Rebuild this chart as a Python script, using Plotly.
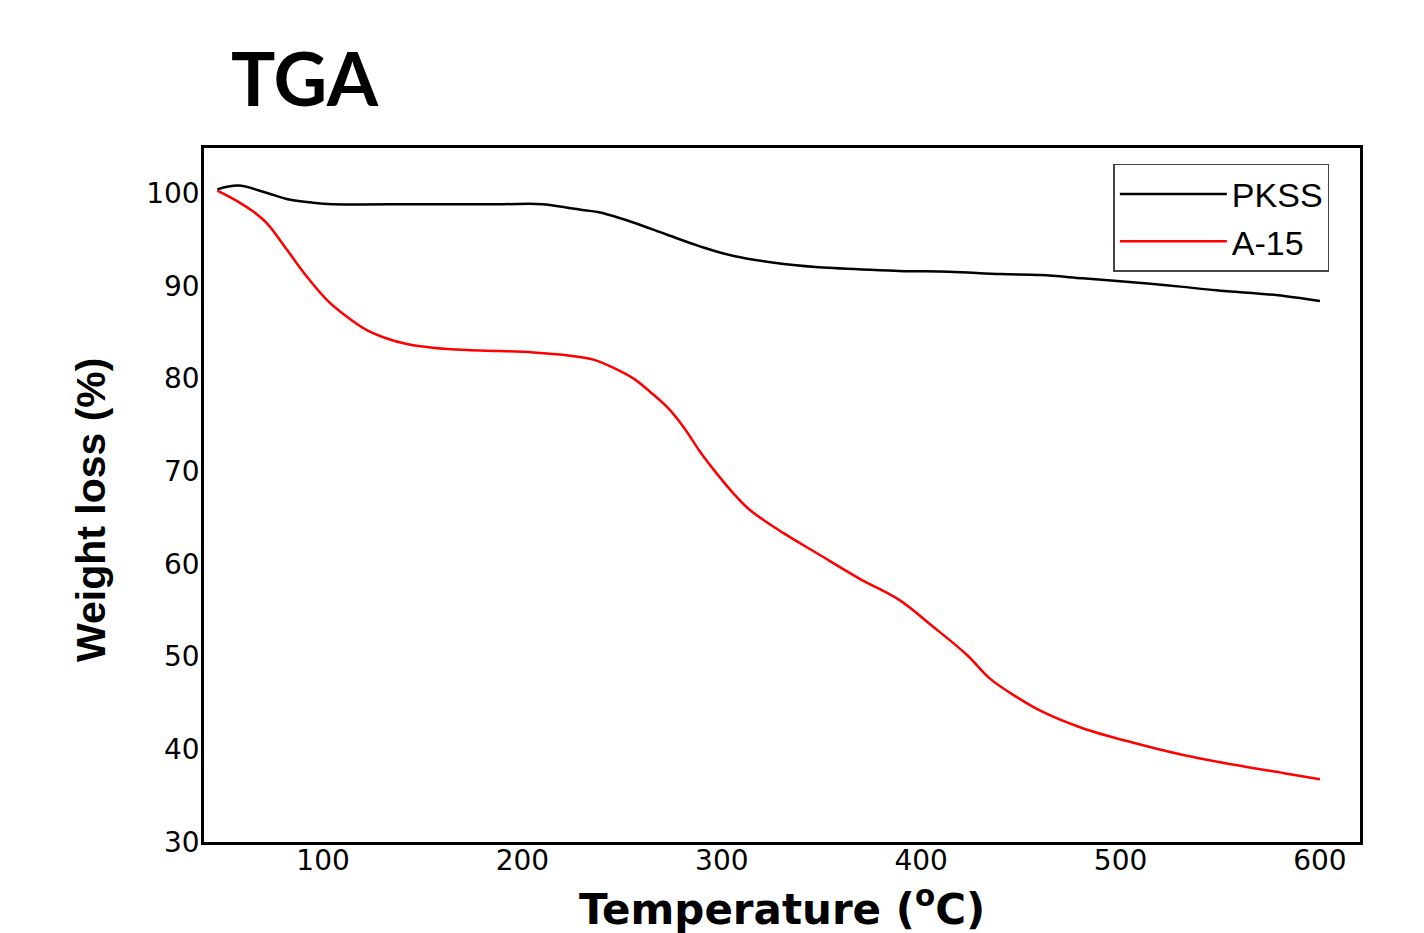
import plotly.graph_objects as go

# ---- data ----
pkss_T = [47, 57.5, 72, 83, 95, 105, 150, 190, 210, 222, 231, 239, 256, 272, 289, 306,
          331, 356, 389, 414, 440, 460, 481, 515, 530, 548, 582, 600]
pkss_W = [100.4, 100.8, 100.0, 99.3, 98.95, 98.8, 98.8, 98.8, 98.8, 98.45, 98.15, 97.9,
          96.8, 95.55, 94.25, 93.2, 92.35, 91.9, 91.6, 91.5, 91.25, 91.15, 90.8, 90.2,
          89.9, 89.5, 88.9, 88.35]

a15_T = [47, 57.5, 65, 72, 82, 92, 102, 112, 122, 132, 142, 155, 172, 189, 205.5, 222,
         236, 247, 256, 264, 272.4, 280.7, 289.1, 297.4, 305.8, 314.1, 331, 348, 369, 389,
         406, 423, 434.5, 448, 461, 481, 506, 531.5, 557, 582, 600]
a15_W = [100.25, 99.05, 98.0, 96.7, 93.85, 90.95, 88.45, 86.65, 85.2, 84.3, 83.7, 83.3,
         83.05, 82.95, 82.8, 82.5, 82.0, 81.0, 79.95, 78.56, 76.94, 74.78, 72.08, 69.75,
         67.6, 65.8, 63.3, 61.1, 58.4, 56.1, 53.2, 50.15, 47.6, 45.6,
         44.0, 42.25, 40.7, 39.35, 38.3, 37.4, 36.75]

series_names = ["PKSS", "A-15"]
x_ticks = [100, 200, 300, 400, 500, 600]
y_ticks = [30, 40, 50, 60, 70, 80, 90, 100]

fig = go.Figure()
fig.add_trace(go.Scatter(x=pkss_T, y=pkss_W, mode="lines", name=series_names[0],
                         line=dict(color="black", width=2.5, shape="spline", smoothing=1.0)))
fig.add_trace(go.Scatter(x=a15_T, y=a15_W, mode="lines", name=series_names[1],
                         line=dict(color="#ff0000", width=2.5, shape="spline", smoothing=1.0)))

tick_font = dict(family="DejaVu Sans, Liberation Sans, Arial", size=28, color="black")

fig.update_layout(
    width=1424, height=933,
    autosize=False,
    margin=dict(l=204, r=64, t=148, b=91, pad=0),
    paper_bgcolor="white", plot_bgcolor="white",
    showlegend=True,
    legend=dict(
        x=0.9735, y=0.977, xanchor="right", yanchor="top",
        bgcolor="white", bordercolor="#444", borderwidth=1.5,
        font=dict(family="Liberation Sans, Arial", size=34, color="black"),
        itemwidth=107, tracegroupgap=0,
    ),
    xaxis=dict(
        range=[40.3, 620.1], tickvals=x_ticks, ticktext=[str(v) for v in x_ticks],
        showgrid=False, zeroline=False, ticks="", showline=True, mirror=True,
        linecolor="black", linewidth=2.5, tickfont=tick_font, ticklabelstandoff=-8,
    ),
    yaxis=dict(
        range=[29.97, 104.86], tickvals=y_ticks, ticktext=[str(v) for v in y_ticks],
        showgrid=False, zeroline=False, ticks="", showline=True, mirror=True,
        linecolor="black", linewidth=2.5, tickfont=tick_font, ticklabelstandoff=-4,
    ),
    annotations=[
        dict(text="<b>TGA</b>", xref="paper", yref="paper",
             x=(229 - 204) / 1156, y=(842 - 77) / 694, xanchor="left", yanchor="middle",
             showarrow=False, font=dict(family="Lato, Open Sans", size=74, color="black")),
        dict(text="<b>Temperature (<sup>o</sup>C)</b>", xref="paper", yref="paper",
             x=0.5, y=(842 - 906) / 694, xanchor="center", yanchor="middle",
             showarrow=False,
             font=dict(family="DejaVu Sans, Liberation Sans, Arial", size=42, color="black")),
        dict(text="<b>Weight loss (%)</b>", xref="paper", yref="paper",
             x=(91 - 204) / 1156, y=(842 - 510) / 694, xanchor="center", yanchor="middle",
             textangle=-90, showarrow=False,
             font=dict(family="Liberation Sans, Arial", size=41, color="black")),
    ],
)

fig.write_html("out.html", config={"displayModeBar": False},
               post_script="document.body.style.margin='0';document.body.style.overflow='hidden';")
